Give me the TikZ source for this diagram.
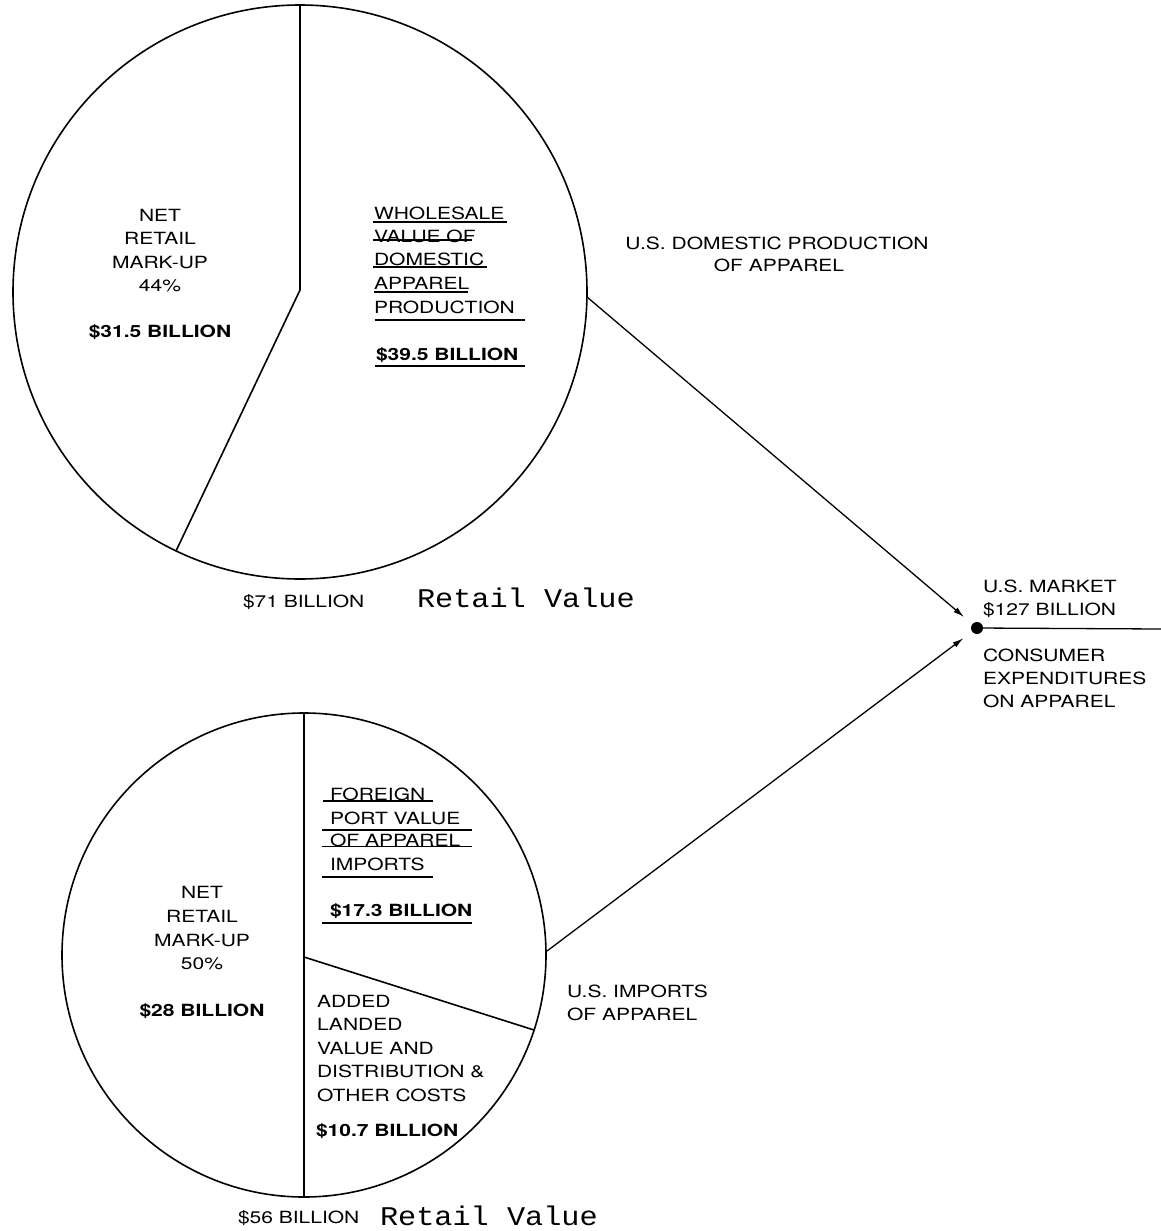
\documentclass[tikz,border=0pt]{standalone}
\usepackage{fontspec}
\setmainfont{TeX Gyre Heros}[FakeStretch=1.25]
\newfontfamily\cour{Liberation Mono}[FakeStretch=1.12]
\usetikzlibrary{arrows.meta}
\tikzset{
  lbl/.style={inner sep=0pt, outer sep=0pt, anchor=base west, font=\fontsize{16.8}{20}\selectfont},
  lblc/.style={lbl, anchor=base},
  blbl/.style={lbl, font=\fontsize{16.8}{20}\selectfont\bfseries},
  blblc/.style={blbl, anchor=base},
  rv/.style={inner sep=0pt, outer sep=0pt, anchor=base west, font=\cour\fontsize{27}{30}\selectfont},
  pie/.style={line width=1.6pt},
  ul/.style={line width=1.3pt},
  arr/.style={line width=1.3pt, -{Latex[length=11pt,width=6pt]}, shorten >=11pt},
  dotnode/.style={circle, fill=black, inner sep=0pt, minimum size=12pt, outer sep=0pt}
}
\begin{document}
\begin{tikzpicture}[x=1pt,y=-1pt]
\fill[white] (0,0) rectangle (1161,1231);
\useasboundingbox (0,0) rectangle (1161,1231);

% ---------- top pie ----------
\coordinate (c1) at (300,292);
\draw[pie] (c1) circle[radius=287];
\draw[pie] (300,5) -- (300,290) -- (176,551);

\node[lblc] (t1) at (160,221) {NET};
\node[lblc] (t2) at (160,244) {RETAIL};
\node[lblc] (t3) at (160,268) {MARK-UP};
\node[lblc] (t4) at (160,291) {44\%};
\node[blblc] (t5) at (160,337) {\$31.5 BILLION};

\node[lbl] (w1) at (374,219.5) {WHOLESALE};
\node[lbl] (w2) at (374,242) {VALUE OF};
\node[lbl] (w3) at (374,265) {DOMESTIC};
\node[lbl] (w4) at (374,289.5) {APPAREL};
\node[lbl] (w5) at (374,313) {PRODUCTION};
\node[blbl] (w6) at (376,360) {\$39.5 BILLION};
\draw[ul] (373,222) -- (507,222);
\draw[ul] (373,240) -- (472,240);
\draw[ul] (373,267) -- (487,267);
\draw[ul] (374,292) -- (468,292);
\draw[ul] (375,320) -- (525,320);
\draw[ul] (375,366) -- (525,366);

\node[lbl] (b71) at (243,607) {\$71 BILLION};
\node[rv] (rv1) at (417,607) {Retail Value};

% ---------- bottom pie ----------
\coordinate (c2) at (304,955);
\draw[pie] (c2) circle[radius=242];
\draw[pie] (304,713) -- (304,1197);
\draw[pie] (304,957) -- (534,1030);

\node[lblc] (n1) at (202,898) {NET};
\node[lblc] (n2) at (202,922) {RETAIL};
\node[lblc] (n3) at (202,946) {MARK-UP};
\node[lblc] (n4) at (202,969) {50\%};
\node[blblc] (n5) at (202,1016) {\$28 BILLION};

\node[lbl] (f1) at (330,800) {FOREIGN};
\node[lbl] (f2) at (330,824) {PORT VALUE};
\node[lbl] (f3) at (330,846) {OF APPAREL};
\node[lbl] (f4) at (330,870) {IMPORTS};
\node[blbl] (f5) at (330,916) {\$17.3 BILLION};
\draw[ul] (323,801) -- (433,801);
\draw[ul] (322,830) -- (472,830);
\draw[ul] (322,846.5) -- (472,846.5);
\draw[ul] (322,877) -- (433,877);
\draw[ul] (322,923) -- (472,923);

\node[lbl] (a1) at (317,1007) {ADDED};
\node[lbl] (a2) at (317,1030.5) {LANDED};
\node[lbl] (a3) at (317,1054) {VALUE AND};
\node[lbl] (a4) at (317,1077.5) {DISTRIBUTION \&};
\node[lbl] (a5) at (317,1101) {OTHER COSTS};
\node[blbl] (a6) at (316,1136) {\$10.7 BILLION};

\node[lbl] (b56) at (238,1223) {\$56 BILLION};
\node[rv] (rv2) at (380,1225) {Retail Value};

% ---------- right side ----------
\node[lblc] (d1) at (777,249) {U.S. DOMESTIC PRODUCTION};
\node[lblc] (d2) at (779,271.5) {OF APPAREL};

\node[lbl] (i1) at (567,997) {U.S. IMPORTS};
\node[lbl] (i2) at (567,1020) {OF APPAREL};

\node[dotnode] (mkt) at (977,628) {};
\node[lbl] (m1) at (983,592) {U.S. MARKET};
\node[lbl] (m2) at (983,615) {\$127 BILLION};
\node[lbl] (m3) at (983,661) {CONSUMER};
\node[lbl] (m4) at (983,684) {EXPENDITURES};
\node[lbl] (m5) at (983,707) {ON APPAREL};

\coordinate (p1) at (587,297);
\coordinate (p2) at (547,951);
\coordinate (rend) at (1161,629);
\draw[arr] (p1) -- (mkt);
\draw[arr] (p2) -- (mkt);
\draw[line width=1.3pt] (mkt) -- (rend);
\end{tikzpicture}
\end{document}
